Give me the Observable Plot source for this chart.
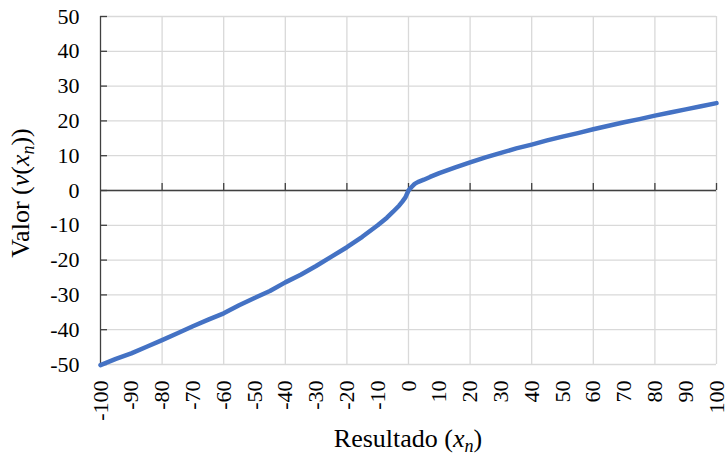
<!DOCTYPE html>
<html><head><meta charset="utf-8">
<script src="https://cdn.jsdelivr.net/npm/d3@7"></script>
<script src="https://cdn.jsdelivr.net/npm/@observablehq/plot@0.6"></script>
<style>body{margin:0;background:#fff}#chart{width:728px;height:463px}
#chart svg, #chart svg text{font-family:"Liberation Serif","Times New Roman",Times,serif !important}</style>
</head><body><div id="chart"></div>
<script>
const outcomes = [-100,-95,-90,-85,-80,-75,-70,-65,-60,-55,-50,-45,-40,-35,-30,-25,-20,-15,-10,-7,-5,-3,-2,-1,0,1,2,3,5,7,10,15,20,25,30,35,40,45,50,55,60,65,70,75,80,85,90,95,100];
const values = [-50.2,-48.4,-46.8,-44.9,-43.0,-41.0,-39.0,-37.1,-35.3,-33.0,-30.9,-28.9,-26.4,-24.2,-21.7,-19.0,-16.3,-13.3,-10.0,-7.8,-6.1,-4.3,-3.2,-2.0,0,1.0,1.9,2.4,3.1,3.9,5.0,6.6,8.1,9.5,10.8,12.1,13.2,14.4,15.5,16.5,17.6,18.6,19.6,20.5,21.5,22.4,23.3,24.2,25.1];
const xTickLabels = [-100,-90,-80,-70,-60,-50,-40,-30,-20,-10,0,10,20,30,40,50,60,70,80,90,100];
const xGridTicks = [-80,-60,-40,-20,0,20,40,60,80,100];
const yTicks = [-50,-40,-30,-20,-10,0,10,20,30,40,50];
const xTitle = "Resultado";
const yTitle = "Valor";

const data = outcomes.map((x, i) => ({x, v: values[i]}));
const font = '"Liberation Serif","Times New Roman",Times,serif';
const axisColor = "#404040";
const gridColor = "#d9d9d9";

const plot = Plot.plot({
  width: 728, height: 463,
  marginLeft: 100, marginRight: 12, marginTop: 16, marginBottom: 99,
  style: {fontFamily: font, fontSize: "22px", background: "#fff", color: "#000", overflow: "visible"},
  x: {domain: [-100, 100]},
  y: {domain: [-50, 50]},
  marks: [
    Plot.ruleX(xGridTicks, {stroke: gridColor, strokeWidth: 1.3}),
    Plot.ruleY(yTicks, {stroke: gridColor, strokeWidth: 1.3}),
    Plot.ruleY([0], {stroke: axisColor, strokeWidth: 1.3}),
    Plot.ruleX([-100], {stroke: axisColor, strokeWidth: 1.3}),
    Plot.ruleX(xGridTicks, {x: d => d, y1: 0, y2: 0, insetBottom: 7, stroke: axisColor, strokeWidth: 1.3}),
    Plot.ruleY(yTicks, {y: d => d, x1: -100, x2: -100, insetRight: -7, stroke: axisColor, strokeWidth: 1.3}),
    Plot.axisY(yTicks, {tickSize: 0, tickPadding: 21, tickFormat: d => String(d), label: null, fontSize: 22}),
    Plot.axisX(xTickLabels, {tickSize: 0, tickPadding: 16, tickRotate: -90, tickFormat: d => String(d), label: null, fontSize: 22}),
    Plot.line(data, {x: "x", y: "v", stroke: "#4472C4", strokeWidth: 4.5, strokeLinejoin: "round"})
  ]
});
document.getElementById("chart").appendChild(plot);

const svg = d3.select(plot);
const xt = svg.append("text").attr("x", 408).attr("y", 447).attr("text-anchor", "middle")
  .attr("font-family", font).attr("font-size", 26).attr("fill", "#000");
xt.append("tspan").text(xTitle + " (");
xt.append("tspan").attr("font-style", "italic").text("x");
xt.append("tspan").attr("font-style", "italic").attr("font-size", 18).attr("dy", 5).text("n");
xt.append("tspan").attr("dy", -5).text(")");

const yt = svg.append("text").attr("transform", "translate(29,193) rotate(-90)").attr("text-anchor", "middle")
  .attr("font-family", font).attr("font-size", 26).attr("fill", "#000");
yt.append("tspan").text(yTitle + " (");
yt.append("tspan").attr("font-style", "italic").text("v");
yt.append("tspan").text("(");
yt.append("tspan").attr("font-style", "italic").text("x");
yt.append("tspan").attr("font-style", "italic").attr("font-size", 18).attr("dy", 5).text("n");
yt.append("tspan").attr("dy", -5).text("))");
</script></body></html>
